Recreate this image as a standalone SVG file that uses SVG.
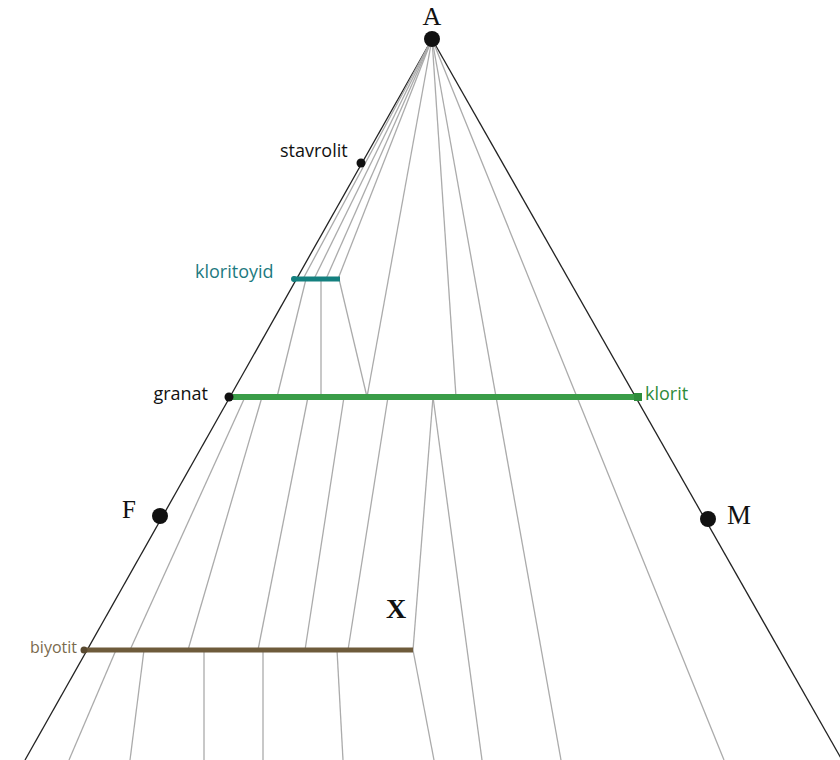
<svg xmlns="http://www.w3.org/2000/svg" width="840" height="760" viewBox="0 0 840 760">
<style>
.g{stroke:#ababab;stroke-width:1.3;fill:none}
.e{stroke:#222;stroke-width:1.3;fill:none}
.lbl{font-family:"Open Sans","DejaVu Sans",sans-serif;font-size:18px}
.ser{font-family:"Liberation Serif","Times New Roman",serif;fill:#111}
.dot{fill:#111}
</style>
<rect width="840" height="760" fill="#fff"/>
<g id="connectors">
<line class="e" x1="432" y1="39" x2="25" y2="760"/>
<line class="e" x1="432" y1="39" x2="842" y2="760"/>
<line class="g" x1="432" y1="39" x2="303" y2="279"/>
<line class="g" x1="432" y1="39" x2="314" y2="279"/>
<line class="g" x1="432" y1="39" x2="326" y2="279"/>
<line class="g" x1="432" y1="39" x2="338" y2="279"/>
<line class="g" x1="306" y1="279" x2="277" y2="397"/>
<line class="g" x1="321" y1="279" x2="321" y2="397"/>
<line class="g" x1="339" y1="279" x2="367" y2="397"/>
<line class="g" x1="432" y1="39" x2="367" y2="397"/>
<line class="g" x1="432" y1="39" x2="456" y2="397"/>
<line class="g" x1="432" y1="39" x2="561" y2="760"/>
<line class="g" x1="432" y1="39" x2="724" y2="760"/>
<line class="g" x1="245" y1="397" x2="130" y2="650"/>
<line class="g" x1="262" y1="397" x2="188" y2="650"/>
<line class="g" x1="308" y1="397" x2="258" y2="650"/>
<line class="g" x1="344" y1="397" x2="305" y2="650"/>
<line class="g" x1="388" y1="397" x2="348" y2="650"/>
<line class="g" x1="433" y1="397" x2="413" y2="650"/>
<line class="g" x1="433" y1="397" x2="482" y2="760"/>
<line class="g" x1="116" y1="650" x2="69" y2="760"/>
<line class="g" x1="144" y1="650" x2="130" y2="760"/>
<line class="g" x1="204" y1="650" x2="204" y2="760"/>
<line class="g" x1="263" y1="650" x2="263" y2="760"/>
<line class="g" x1="337" y1="650" x2="343" y2="760"/>
<line class="g" x1="413" y1="650" x2="434" y2="760"/>
</g>
<g id="kloritoyid">
<line x1="293" y1="279" x2="340" y2="279" stroke="#14807f" stroke-width="5"/>
<circle cx="294" cy="279" r="3" fill="#14807f"/>
<text class="lbl" x="195" y="278" fill="#1d7a80">kloritoyid</text>
</g>
<g id="granat-klorit">
<line x1="229" y1="397" x2="638" y2="397" stroke="#3a9d48" stroke-width="6"/>
<rect x="634" y="393" width="8" height="8" fill="#2e8d3c"/>
<circle class="dot" cx="229" cy="397" r="4.5"/>
<text class="lbl" x="208" y="400" text-anchor="end" fill="#111">granat</text>
<text class="lbl" x="645" y="400" fill="#2e8b3a">klorit</text>
</g>
<g id="biyotit">
<line x1="84" y1="650" x2="413" y2="650" stroke="#6e5b3b" stroke-width="5"/>
<circle cx="84" cy="650" r="3.5" fill="#5a4a30"/>
<text class="lbl" x="77" y="653" text-anchor="end" fill="#7a6a4d" style="font-size:16px">biyotit</text>
</g>
<g id="stavrolit">
<circle class="dot" cx="361" cy="163" r="4.5"/>
<text class="lbl" x="280" y="157" fill="#111">stavrolit</text>
</g>
<g id="A">
<circle class="dot" cx="432" cy="39" r="8"/>
<text class="ser" x="432" y="25" text-anchor="middle" font-size="26">A</text>
</g>
<g id="F">
<circle class="dot" cx="160" cy="516" r="8"/>
<text class="ser" x="122" y="518" font-size="25">F</text>
</g>
<g id="M">
<circle class="dot" cx="708" cy="519" r="8"/>
<text class="ser" x="727" y="524" font-size="27">M</text>
</g>
<g id="X">
<text class="ser" x="386" y="618" font-size="28" font-weight="bold">X</text>
</g>
</svg>
